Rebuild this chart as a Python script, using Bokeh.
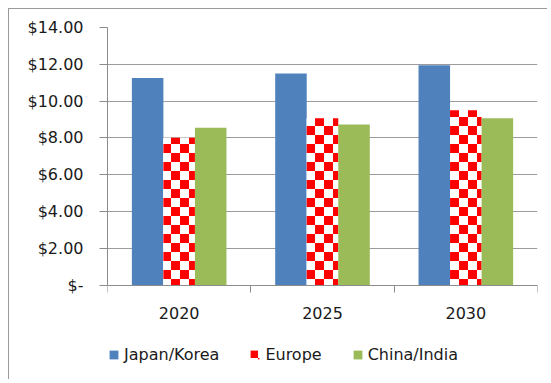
import base64
from bokeh.plotting import figure
from bokeh.models import (ColumnDataSource, FixedTicker, Range1d, Legend, LegendItem,
                          ImageURLTexture)
from bokeh.core.properties import value
from bokeh.transform import dodge
from bokeh.embed import file_html
from bokeh.resources import INLINE

# ---- data ----
categories = ["2020", "2025", "2030"]
series_names = ["Japan/Korea", "Europe", "China/India"]
japan_korea = [11.25, 11.5, 11.95]
europe = [8.0, 9.07, 9.5]
china_india = [8.55, 8.73, 9.07]
y_ticks = [0, 2, 4, 6, 8, 10, 12, 14]
y_tick_labels = ["$-", "$2.00", "$4.00", "$6.00", "$8.00", "$10.00", "$12.00", "$14.00"]

n = len(categories)
centers = [i + 0.5 for i in range(n)]
bounds = [float(i) for i in range(n + 1)]
base = [y_ticks[0]] * n

src = ColumnDataSource(dict(x=centers, jk=japan_korea, eu=europe, ci=china_india,
                            base=base, cat=categories))

FONT = "DejaVu Sans"
FS = "16px"
TXT = "#1a1a1a"
AX = "#8c8c8c"

# layout: frame from 18px below top to the bottom of the figure;
# value range extended below zero so the legend sits inside the frame
H = 371
TOP = 18
ZERO_PX = 275.5   # distance of the zero line from the figure top
ppu = (ZERO_PX - TOP) / (y_ticks[-1] - y_ticks[0])
y_start = y_ticks[0] - (H - ZERO_PX) / ppu

p = figure(width=539, height=H, output_backend="svg", toolbar_location=None,
           x_range=Range1d(0, n), y_range=Range1d(y_start, y_ticks[-1]),
           min_border_left=98, min_border_top=TOP, min_border_right=11, min_border_bottom=0)
p.styles = {"border-left": "1px solid #9a9a9a", "border-top": "1px solid #9a9a9a",
            "position": "relative", "left": "8px", "top": "8px"}
p.outline_line_color = None
p.background_fill_color = "white"
p.border_fill_color = "white"

# red/white checkerboard texture
svg_tile = ("<svg xmlns='http://www.w3.org/2000/svg' width='18' height='18'>"
            "<rect width='18' height='18' fill='#ffffff'/>"
            "<rect width='9' height='9' fill='#ff0000'/>"
            "<rect x='9' y='9' width='9' height='9' fill='#ff0000'/></svg>")
checker = ImageURLTexture(
    url="data:image/svg+xml;base64," + base64.b64encode(svg_tile.encode()).decode(),
    repetition="repeat")

bw = 0.22
r1 = p.vbar(x=dodge("x", -bw), top="jk", bottom="base", width=bw, source=src,
            fill_color="#4f81bd", line_color=None)
r2 = p.vbar(x=dodge("x", 0), top="eu", bottom="base", width=bw, source=src,
            fill_color="white", line_color=None,
            hatch_pattern=value("checker"), hatch_extra={"checker": checker},
            hatch_color="#ff0000", hatch_scale=12, hatch_weight=1)
r3 = p.vbar(x=dodge("x", bw), top="ci", bottom="base", width=bw, source=src,
            fill_color="#9bbb59", line_color=None)

# grid
p.xgrid.grid_line_color = None
p.ygrid.ticker = FixedTicker(ticks=y_ticks)
p.ygrid.grid_line_color = "#9c9c9c"
p.ygrid.grid_line_width = 1.2

# y axis
p.yaxis.ticker = FixedTicker(ticks=y_ticks)
p.yaxis.bounds = (y_ticks[0], y_ticks[-1])
p.yaxis.major_label_overrides = {t: l for t, l in zip(y_ticks, y_tick_labels)}
p.yaxis.axis_line_color = AX
p.yaxis.major_tick_line_color = AX
p.yaxis.major_tick_out = 8
p.yaxis.major_tick_in = 0
p.yaxis.minor_tick_line_color = None
p.yaxis.major_label_standoff = 16
p.yaxis.major_label_text_font = FONT
p.yaxis.major_label_text_font_size = FS
p.yaxis.major_label_text_color = TXT

# x axis drawn at zero: ticks at category boundaries, labels as text below
p.xaxis.fixed_location = y_ticks[0]
p.xaxis.ticker = FixedTicker(ticks=[], minor_ticks=bounds)
p.xaxis.axis_line_color = AX
p.xaxis.major_tick_line_color = None
p.xaxis.major_tick_out = 0
p.xaxis.major_tick_in = 0
p.xaxis.minor_tick_line_color = AX
p.xaxis.minor_tick_out = 7
p.xaxis.minor_tick_in = 0
p.xaxis.major_label_standoff = 0
p.xaxis.major_label_text_font_size = "0px"

p.text(x="x", y="base", text="cat", source=src, y_offset=28,
       text_align="center", text_baseline="middle",
       text_font=value(FONT), text_font_size=FS, text_color=TXT)

legend = Legend(items=[LegendItem(label=series_names[0], renderers=[r1]),
                       LegendItem(label=series_names[1], renderers=[r2]),
                       LegendItem(label=series_names[2], renderers=[r3])],
                orientation="horizontal", location=(1, 16),
                glyph_width=11, glyph_height=11, label_standoff=5, spacing=30,
                padding=0, margin=0, label_height=16,
                label_text_font=FONT, label_text_font_size=FS,
                label_text_color=TXT, border_line_color=None,
                background_fill_alpha=0)
p.add_layout(legend, "center")

open("out.html", "w").write(file_html(p, INLINE))
